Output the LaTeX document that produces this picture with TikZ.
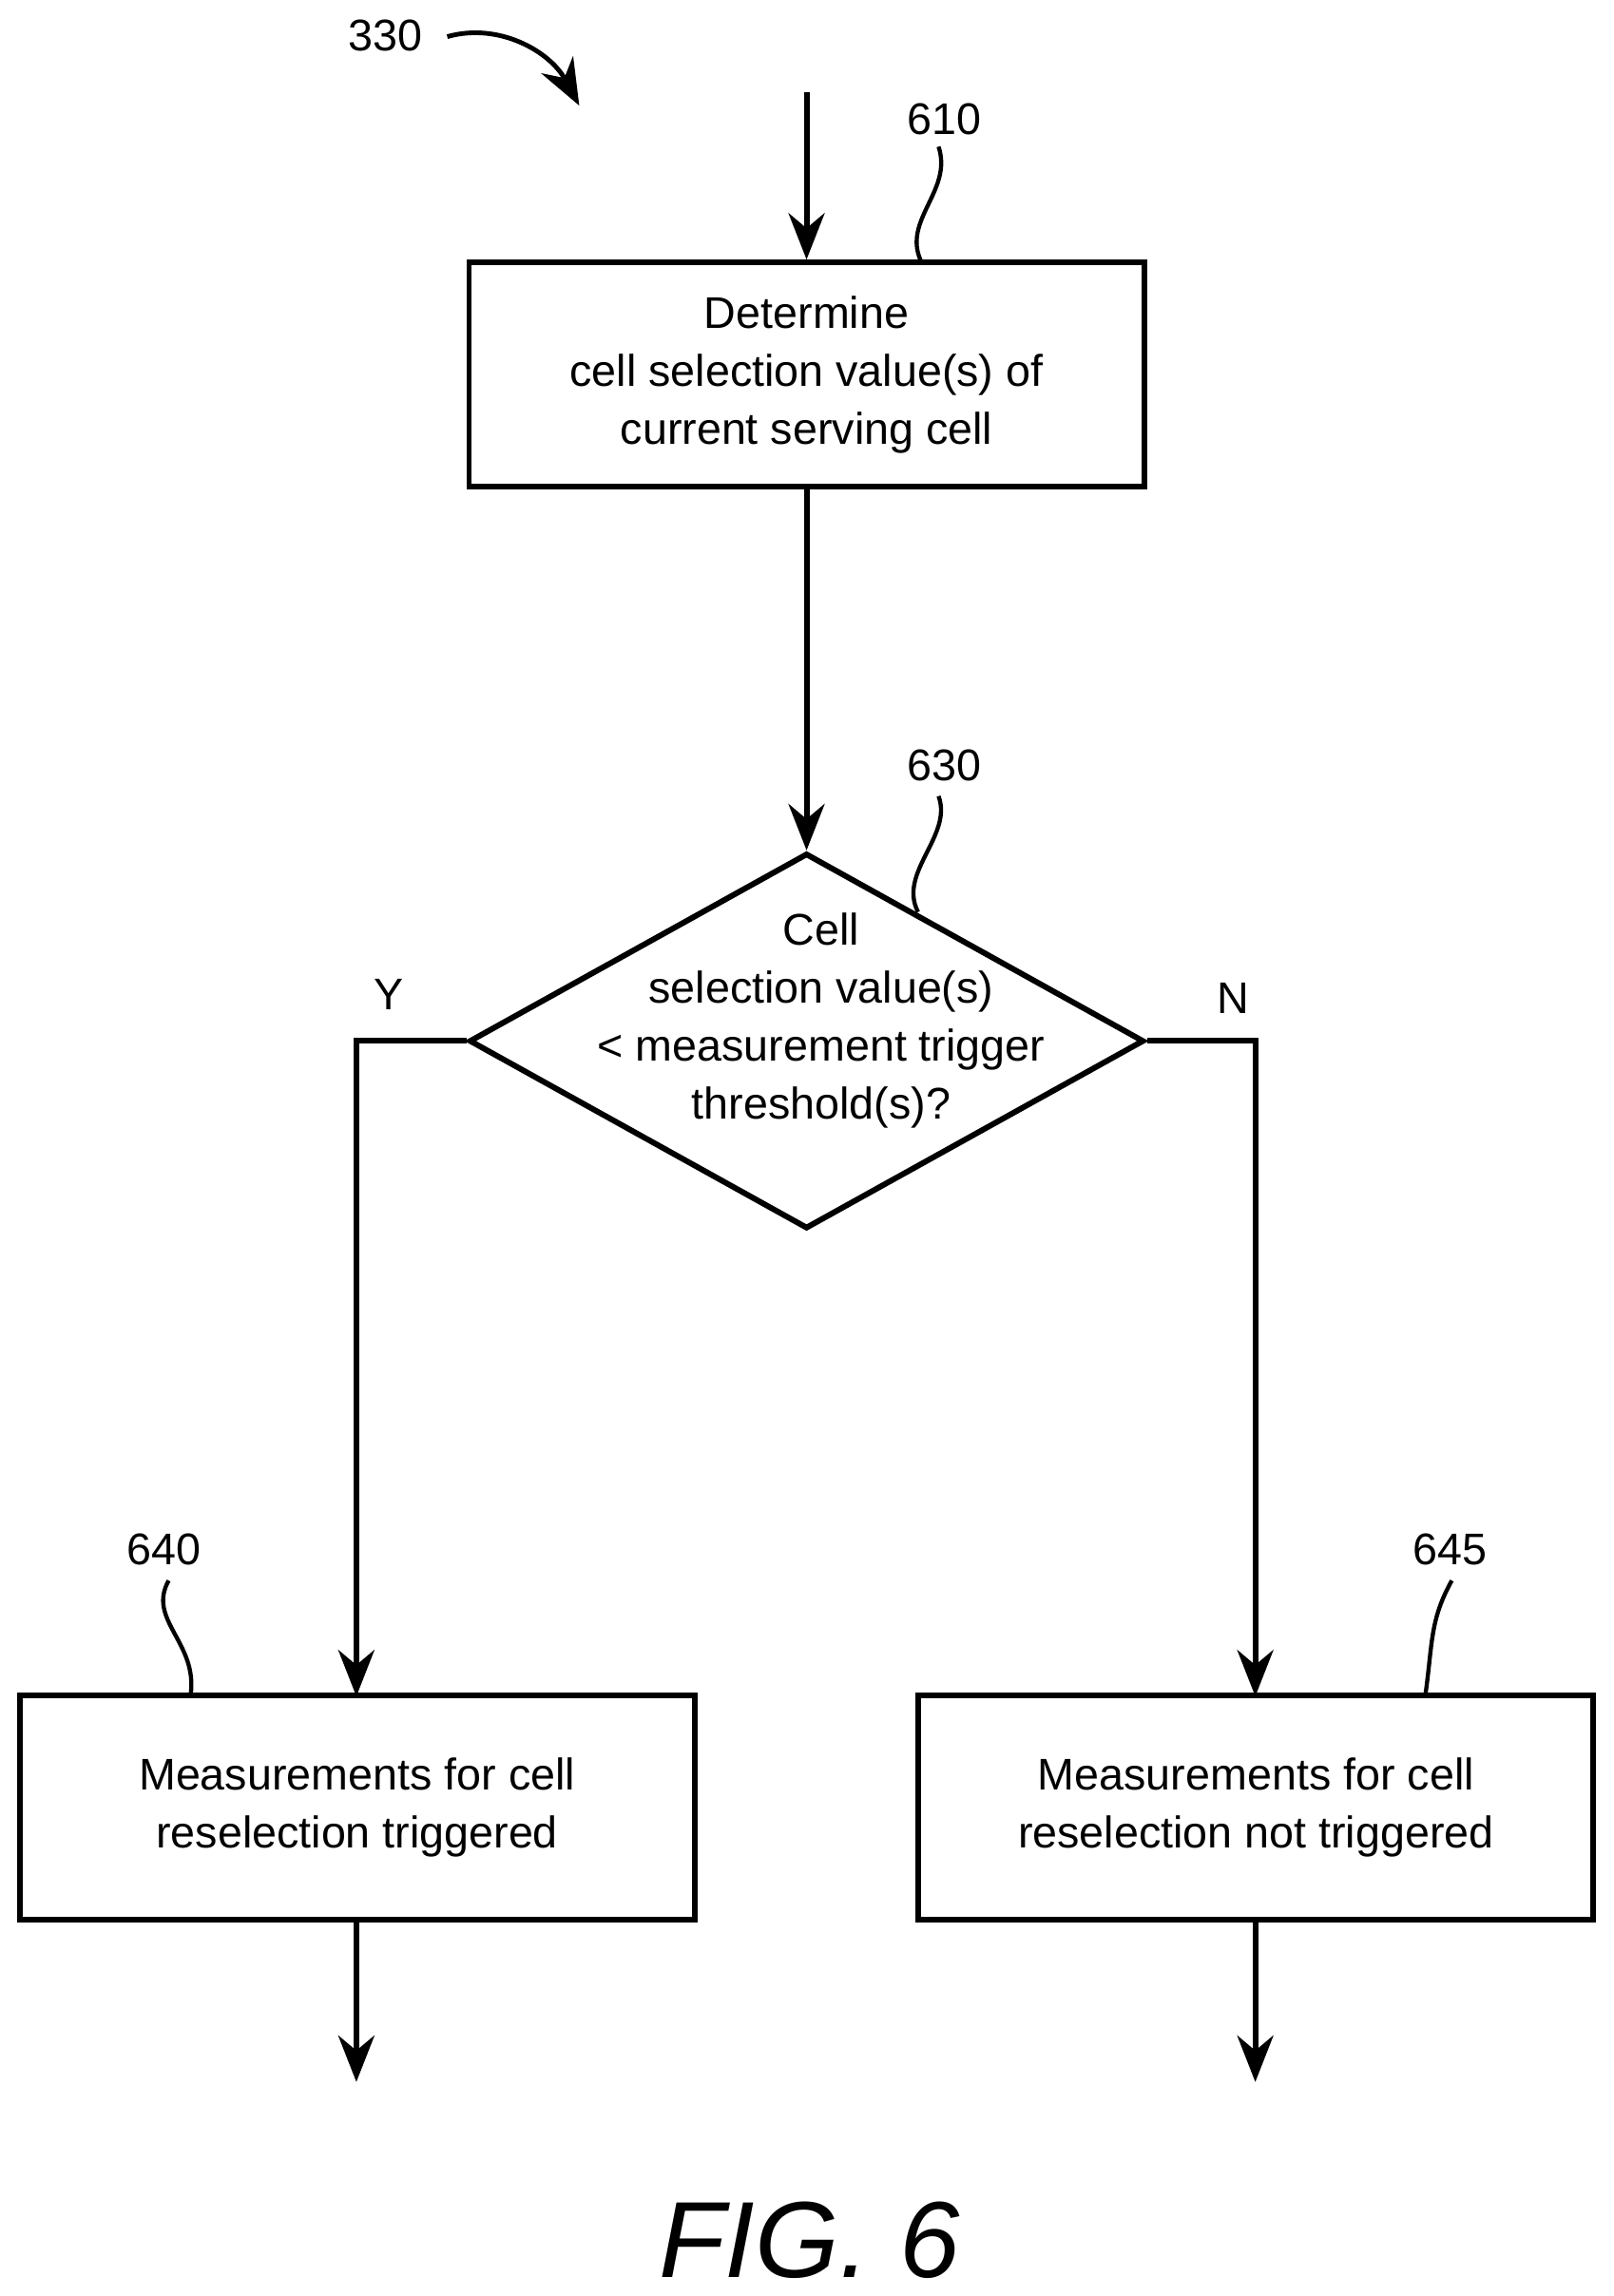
\documentclass[tikz,border=0pt]{standalone}
\usepackage{fontspec}
\setmainfont{Liberation Sans}
\usetikzlibrary{arrows.meta,shapes.geometric}
\begin{document}
\begin{tikzpicture}[x=0.01cm,y=-0.01cm,
  line width=1.1pt,
  arr/.style={-{Stealth[length=9pt,width=7pt]}},
  box/.style={draw,line width=1.1pt,minimum width=4.6cm,minimum height=1.53cm,inner sep=0pt,align=center,font=\fontsize{8.6}{11.2}\selectfont},
  lab/.style={font=\fontsize{8.6}{10}\selectfont,inner sep=1pt},
  sq/.style={line width=0.8pt}]
\useasboundingbox (0,0) rectangle (1100,1566);
\node[box] (b610) at (550,255.5) {Determine\\cell selection value(s) of\\current serving cell};
\coordinate (top) at (550,63);
\draw[arr] (top) -- (b610.north);
\node[lab] (l610) at (644,81) {610};
\draw[sq] (628,178) .. controls (615,150) and (650,130) .. (640,100);
\node[draw,line width=1.1pt,diamond,aspect=1.797,minimum width=4.6cm,minimum height=2.56cm,inner sep=0pt] (d630) at (550,710) {};
\node[align=center,font=\fontsize{8.6}{11.2}\selectfont] (t630) at (560,696) {Cell\\selection value(s)\\< measurement trigger\\threshold(s)?};
\draw[arr] (b610.south) -- (d630.north);
\node[lab] (l630) at (644,522) {630};
\draw[sq] (626,622) .. controls (612,595) and (650,570) .. (640,543);
\node[box] (b640) at (243.5,1233) {Measurements for cell\\reselection triggered};
\node[box] (b645) at (856.5,1233) {Measurements for cell\\reselection not triggered};
\draw[arr] (d630.west) -- (243,710) -- (243,1157);
\draw[arr] (d630.east) -- (856,710) -- (856,1157);
\node[lab] (y) at (265,678) {Y};
\node[lab] (n) at (841,681) {N};
\node[lab] (l640) at (112,1057) {640};
\draw[sq] (130,1156) .. controls (135,1120) and (100,1105) .. (115,1078);
\node[lab] (l645) at (989,1057) {645};
\draw[sq] (972,1156) .. controls (977,1120) and (975,1105) .. (990,1078);
\coordinate (e1) at (243,1420);
\coordinate (e2) at (856,1420);
\draw[arr] (243,1309) -- (e1);
\draw[arr] (856,1309) -- (e2);
\node[lab] (l330) at (263,24) {330};
\draw[arr,line width=0.9pt] (305,25) .. controls (340,15) and (375,35) .. (395,72);
\node[font=\fontsize{21}{24}\selectfont\itshape] (fig) at (552,1528) {FIG. 6};
\end{tikzpicture}
\end{document}
